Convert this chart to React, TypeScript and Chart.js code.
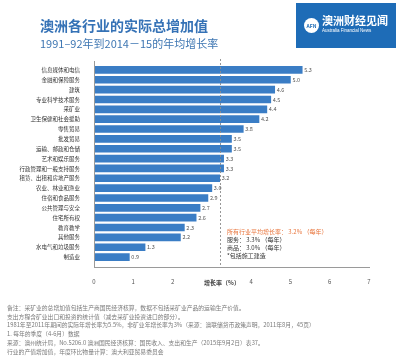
import React, { useEffect, useRef } from "react";
import { Chart, registerables } from "chart.js";

Chart.register(...registerables);

const categories = [
  "信息媒体和电信",
  "金融和保险服务",
  "建筑",
  "专业科学技术服务",
  "采矿业",
  "卫生保健和社会援助",
  "零售贸易",
  "批发贸易",
  "运输、邮政和仓储",
  "艺术和娱乐服务",
  "行政管理和一般支持服务",
  "租赁、出租和房地产服务",
  "农业、林业和渔业",
  "住宿和食品服务",
  "公共管理与安全",
  "住宅所有权",
  "教育教学",
  "其他服务",
  "水电气和垃圾服务",
  "制造业",
];
const growth = [5.3, 5.0, 4.6, 4.5, 4.4, 4.2, 3.8, 3.5, 3.5, 3.3, 3.3, 3.2, 3.0, 2.9, 2.7, 2.6, 2.3, 2.2, 1.3, 0.9];
const xMin = 0;
const xMax = 7;
const avgAll = 3.2;

const titleText = "澳洲各行业的实际总增加值";
const subtitleText = "1991–92年到2014－15的年均增长率";
const xTitle = "增长率（%）";
const noteLines = [
  { text: "所有行业平均增长率： 3.2% （每年）", color: "#e8743b" },
  { text: "服务： 3.3% （每年）", color: "#333" },
  { text: "商品： 3.0% （每年）", color: "#333" },
  { text: "*包括施工建造", color: "#333" },
];
const footnotes = [
  "备注：采矿业的总增加值包括生产商国民经济核算，数据不包括采矿业产品的运输生产价值。",
  "支出方程含矿业出口和投资的统计值（减去采矿业投资进口的部分）。",
  "1981年至2011年期间的实际年增长率为5.5%，非矿业年增长率为3%（来源：澳联储货币政策声明，2011年8月，45页）",
  "1. 每年的季度（4-6月）数据",
  "来源：澳州统计局，No.5206.0 澳洲国民经济核算：国民收入、支出和生产（2015年9月2日）表37。",
  "行业的产值增加值，年度环比物量计算：澳大利亚贸易委员会",
];

const FONT = '"Noto Sans CJK SC", "Noto Sans", sans-serif';

export default function App() {
  const ref = useRef<HTMLCanvasElement>(null);

  useEffect(() => {
    if (!ref.current) return;
    const extras = {
      id: "extras",
      afterDatasetsDraw(chart: any) {
        const ctx = chart.ctx;
        const { left, right, top, bottom } = chart.chartArea;
        const xs = chart.scales.x;
        ctx.save();
        // axis lines
        ctx.strokeStyle = "#9a9a9a";
        ctx.lineWidth = 1;
        ctx.beginPath();
        ctx.moveTo(Math.round(left) + 0.5, top - 4);
        ctx.lineTo(Math.round(left) + 0.5, bottom + 5);
        ctx.stroke();
        ctx.beginPath();
        ctx.moveTo(left, Math.round(bottom) + 5.5);
        ctx.lineTo(right + 1, Math.round(bottom) + 5.5);
        ctx.stroke();
        // dashed average line
        const ax = Math.round(xs.getPixelForValue(avgAll)) + 0.5;
        ctx.setLineDash([2, 2]);
        ctx.strokeStyle = "rgba(140,140,140,0.9)";
        ctx.beginPath();
        ctx.moveTo(ax, top - 6);
        ctx.lineTo(ax, bottom + 5);
        ctx.stroke();
        ctx.setLineDash([]);
        // value labels
        const meta = chart.getDatasetMeta(0);
        ctx.font = `5.5px ${FONT}`;
        ctx.fillStyle = "#555";
        ctx.textBaseline = "middle";
        ctx.textAlign = "left";
        meta.data.forEach((bar: any, i: number) => {
          ctx.fillText(growth[i].toFixed(1), bar.x + 2, bar.y);
        });
        // x axis title
        ctx.font = `bold 6px ${FONT}`;
        ctx.fillStyle = "#444";
        ctx.textAlign = "center";
        ctx.fillText(xTitle, 222, bottom + 21);
        ctx.restore();
      },
    };

    const chart = new Chart(ref.current, {
      type: "bar",
      data: {
        labels: categories,
        datasets: [
          {
            data: growth,
            backgroundColor: "#3a7dc5",
            barThickness: 7,
          },
        ],
      },
      options: {
        indexAxis: "y",
        animation: false,
        responsive: false,
        maintainAspectRatio: false,
        layout: { padding: { top: 65, right: 31, bottom: 73, left: 0 } },
        plugins: {
          legend: { display: false },
          tooltip: { enabled: false },
          title: { display: false },
        },
        scales: {
          x: {
            type: "linear",
            min: xMin,
            max: xMax,
            grid: { display: false },
            border: { display: false },
            ticks: {
              stepSize: 1,
              padding: 8,
              color: "#555",
              font: { family: FONT, size: 6 },
            },
            afterFit: (s: any) => {
              s.height = 25;
            },
          },
          y: {
            type: "category",
            grid: { display: false },
            border: { display: false },
            ticks: {
              padding: 6,
              color: "#333",
              autoSkip: false,
              font: { family: FONT, size: 5.5 },
            },
            afterFit: (s: any) => {
              s.width = 94;
            },
          },
        },
      },
      plugins: [extras],
    } as any);
    return () => chart.destroy();
  }, []);

  return (
    <div style={{ position: "absolute", left: 0, top: 0, width: 400, height: 360, background: "#fff", fontFamily: FONT, overflow: "hidden" }}>
      <canvas ref={ref} width={400} height={360} style={{ position: "absolute", left: 0, top: 0, width: 400, height: 360 }} />
      <div style={{ position: "absolute", left: 40, top: 16, fontSize: 14, lineHeight: "18px", fontWeight: 700, color: "#3572b6", whiteSpace: "nowrap" }}>
        {titleText}
      </div>
      <div style={{ position: "absolute", left: 40, top: 36, fontSize: 11, lineHeight: "14px", color: "#3f77b3", whiteSpace: "nowrap" }}>
        {subtitleText}
      </div>
      <div style={{ position: "absolute", left: 296, top: 3, width: 100, height: 45, background: "#1e6cb7" }}>
        <div style={{ position: "absolute", left: 8, top: 15, width: 15, height: 15, borderRadius: "50%", background: "#fff", color: "#1e6cb7", fontSize: 5, lineHeight: "15px", textAlign: "center", fontWeight: 700 }}>
          AFN
        </div>
        <div style={{ position: "absolute", left: 26, top: 11, fontSize: 11, lineHeight: "13px", fontWeight: 700, color: "#fff", whiteSpace: "nowrap" }}>
          澳洲财经见闻
        </div>
        <div style={{ position: "absolute", left: 26, top: 25, fontSize: 4.5, lineHeight: "6px", color: "#fff", whiteSpace: "nowrap", fontFamily: '"Liberation Sans", Arial, sans-serif' }}>
          Australia Financial News
        </div>
      </div>
      {noteLines.map((n, i) => (
        <div key={i} style={{ position: "absolute", left: 227, top: 228 + i * 8, fontSize: 6, lineHeight: "8px", color: n.color, whiteSpace: "nowrap" }}>
          {n.text}
        </div>
      ))}
      {footnotes.map((t, i) => (
        <div key={i} style={{ position: "absolute", left: 7, top: 304 + i * 8.7, fontSize: 5.8, lineHeight: "8px", color: "#7a7a7a", whiteSpace: "nowrap" }}>
          {t}
        </div>
      ))}
    </div>
  );
}
